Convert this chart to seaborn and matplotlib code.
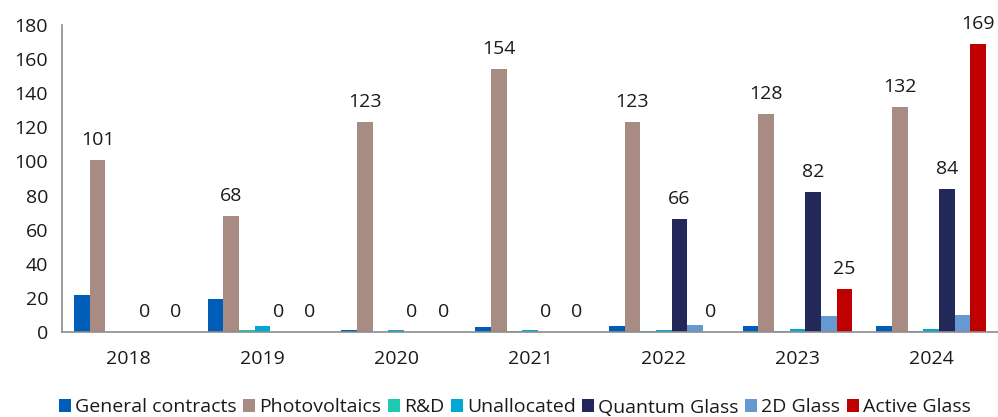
import matplotlib
matplotlib.use("Agg")
import matplotlib.pyplot as plt
import seaborn as sns
import pandas as pd
import numpy as np
from matplotlib.patches import Patch

years = ["2018", "2019", "2020", "2021", "2022", "2023", "2024"]
series = ["General contracts", "Photovoltaics", "R&D", "Unallocated",
          "Quantum Glass", "2D Glass", "Active Glass"]
general_contracts = [21.5, 19.5, 1.3, 3.0, 3.5, 3.5, 3.8]
photovoltaics = [101, 68, 123, 154, 123, 128, 132]
rnd = [0, 1.0, 0, 0.3, 0.4, 0.4, 0.4]
unallocated = [0, 3.8, 1.3, 1.3, 1.3, 1.6, 1.6]
quantum_glass = [0, 0, 0, 0, 66, 82, 84]
glass_2d = [0, 0, 0, 0, 4.3, 9.3, 9.8]
active_glass = [0, 0, 0, 0, 0, 25, 169]
colors = ["#005EB8", "#A88C84", "#1DC9B0", "#00A8D4", "#22285A", "#6699D1", "#BE0000"]
labelled = ["Photovoltaics", "Quantum Glass", "Active Glass"]

values = [general_contracts, photovoltaics, rnd, unallocated,
          quantum_glass, glass_2d, active_glass]
df = pd.DataFrame([
    {"year": y, "series": s, "value": v}
    for s, vals in zip(series, values) for y, v in zip(years, vals)
])

sns.set_style("white")
plt.rcParams["font.family"] = ["Open Sans", "DejaVu Sans"]
FS = 14
plt.rcParams["font.size"] = FS

fig = plt.figure(figsize=(9.98, 4.17), dpi=100)
ax = fig.add_axes([62 / 998, 1 - 332 / 417, (998 - 62) / 998, (332 - 25) / 417])

sns.barplot(data=df, x="year", y="value", hue="series", order=years,
            hue_order=series, palette=colors, width=0.82, gap=0,
            linewidth=0, saturation=1, legend=False, ax=ax)

for cont, name in zip(ax.containers, series):
    if name in labelled:
        ax.bar_label(cont, labels=[f"{v:.0f}" for v in cont.datavalues],
                     padding=8, fontsize=FS, color="#1a1a1a")

ax.set_ylim(0, 180)
ax.set_xlim(-0.5, len(years) - 0.5)
ax.set_yticks(np.arange(0, 181, 20))
ax.set_xlabel("")
ax.set_ylabel("")

# Major ticks at category boundaries (tick marks), minor ticks at centers (labels)
ax.set_xticks(np.arange(-0.5, len(years), 1.0))
ax.set_xticklabels([])
ax.set_xticks(np.arange(len(years)), minor=True)
ax.set_xticklabels(years, minor=True)
ax.tick_params(axis="x", which="major", length=6, width=1, color="#8c8c8c", direction="out")
ax.tick_params(axis="x", which="minor", length=0, pad=13, labelsize=FS, labelcolor="#1a1a1a")
ax.tick_params(axis="y", length=6, width=1, color="#8c8c8c", direction="out",
               labelsize=FS, labelcolor="#1a1a1a", pad=4)

sns.despine(ax=ax, top=True, right=True)
for sp in ["left", "bottom"]:
    ax.spines[sp].set_color("#8c8c8c")
    ax.spines[sp].set_linewidth(1.2)
ax.grid(False)

handles = [Patch(facecolor=c, edgecolor="none", label=s) for s, c in zip(series, colors)]
fig.legend(handles=handles, loc="center", bbox_to_anchor=(515 / 998, 1 - 407.5 / 417),
           ncol=7, frameon=False, fontsize=FS, handlelength=0.62, handleheight=0.62,
           handletextpad=0.22, columnspacing=0.32, borderpad=0, labelcolor="#1a1a1a")

fig.savefig("out.png", dpi=100)
